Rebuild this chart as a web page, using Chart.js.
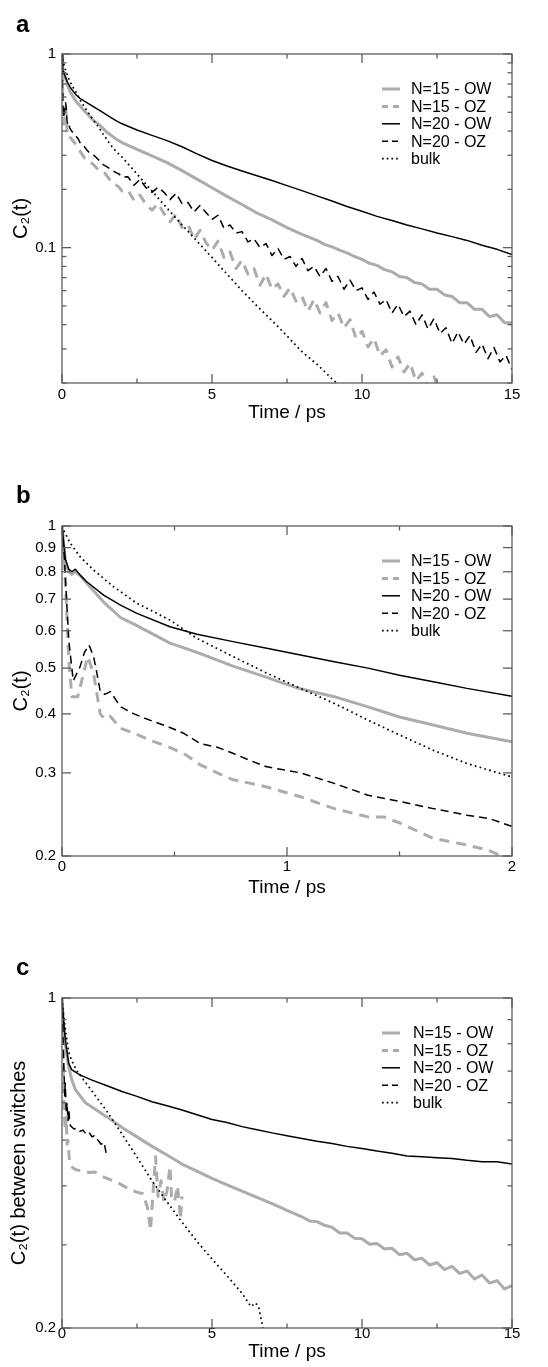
<!DOCTYPE html>
<html><head><meta charset="utf-8">
<script src="https://cdn.jsdelivr.net/npm/chart.js@4.4.1/dist/chart.umd.min.js"></script>
<style>
html,body{margin:0;padding:0;background:#fff;}
#wrap{position:relative;width:548px;height:1367px;overflow:hidden;background:#fff;}
canvas{position:absolute;left:0;}
.lbl{position:absolute;left:16px;font:bold 24px 'Liberation Sans',Arial,sans-serif;color:#000;line-height:1;}
</style></head><body>
<div id="wrap">
<canvas id="cA" width="548" height="440" style="top:0"></canvas>
<canvas id="cB" width="548" height="460" style="top:440px"></canvas>
<canvas id="cC" width="548" height="467" style="top:900px"></canvas>
<div class="lbl" style="top:12px">a</div>
<div class="lbl" style="top:483px">b</div>
<div class="lbl" style="top:955px">c</div>
</div>
<script>
// ---------- labels ----------
const seriesLabels = ['N=15 - OW', 'N=15 - OZ', 'N=20 - OW', 'N=20 - OZ', 'bulk'];

// ---------- panel b (t = 0..2 ps); also the early part of panel a ----------
const bTimeOW15 = [0,0.015,0.03,0.044,0.059,0.081,0.11,0.185,0.26,0.333,0.48,0.6,0.76,0.91,0.985,1.06,1.21,1.36,1.5,1.65,1.8,2.0];
const bOW15     = [1,0.84,0.80,0.79,0.80,0.785,0.756,0.69,0.64,0.615,0.565,0.54,0.505,0.478,0.464,0.452,0.435,0.414,0.394,0.379,0.364,0.349];
const bTimeOZ15 = [0,0.01,0.02,0.03,0.044,0.07,0.096,0.114,0.14,0.17,0.19,0.215,0.26,0.32,0.39,0.47,0.54,0.615,0.69,0.76,0.84,0.91,1.06,1.21,1.36,1.43,1.5,1.65,1.8,1.89,2.0];
const bOZ15     = [1,0.85,0.68,0.52,0.435,0.435,0.488,0.529,0.488,0.40,0.39,0.395,0.373,0.364,0.352,0.341,0.33,0.312,0.30,0.29,0.285,0.28,0.267,0.252,0.242,0.242,0.235,0.218,0.211,0.206,0.196];
const bTimeOW20 = [0,0.015,0.03,0.044,0.059,0.081,0.11,0.185,0.26,0.333,0.48,0.6,0.76,0.91,1.06,1.21,1.36,1.5,1.65,1.8,2.0];
const bOW20     = [1,0.85,0.81,0.80,0.81,0.787,0.762,0.714,0.68,0.653,0.612,0.59,0.569,0.551,0.533,0.516,0.5,0.483,0.468,0.453,0.436];
const bTimeOZ20 = [0,0.01,0.02,0.03,0.05,0.08,0.1,0.12,0.14,0.155,0.17,0.19,0.215,0.26,0.32,0.39,0.47,0.54,0.615,0.69,0.76,0.84,0.91,1.06,1.21,1.36,1.5,1.65,1.8,1.9,2.0];
const bOZ20     = [1,0.86,0.7,0.573,0.47,0.503,0.54,0.56,0.53,0.488,0.446,0.44,0.446,0.414,0.40,0.388,0.376,0.364,0.346,0.34,0.33,0.318,0.309,0.30,0.285,0.269,0.261,0.252,0.244,0.24,0.231];
const bTimeBulk = [0,0.007,0.037,0.081,0.14,0.23,0.333,0.48,0.6,0.76,0.91,1.06,1.21,1.36,1.5,1.65,1.8,2.0];
const bBulk     = [1,0.98,0.919,0.86,0.807,0.743,0.686,0.632,0.578,0.529,0.488,0.453,0.421,0.388,0.361,0.335,0.314,0.294];

// ---------- panel a, later part (t > 2 ps) ----------
const aLateOW20T = [2.5,3,3.5,4,4.5,5,5.5,6,6.5,7,7.5,8,8.5,9,9.5,10,10.5,11,11.5,12,12.5,13,13.5,14,14.5,15];
const aLateOW20  = [0.405,0.38,0.357,0.332,0.305,0.282,0.264,0.249,0.235,0.222,0.209,0.197,0.185,0.174,0.163,0.154,0.145,0.138,0.131,0.125,0.119,0.114,0.109,0.103,0.098,0.092];
const aLateOW15T = [2.5,3,3.5,4,4.5,5,5.5,6,6.5,7,7.5,8,8.5,8.75,9,9.25,9.5,9.75,10,10.25,10.5,10.75,11,11.25,11.5,11.75,12,12.25,12.5,12.75,13,13.25,13.5,13.75,14,14.25,14.5,14.75,15];
const aLateOW15  = [0.322,0.298,0.275,0.25,0.226,0.204,0.184,0.167,0.151,0.139,0.127,0.117,0.109,0.104,0.101,0.097,0.094,0.09,0.087,0.083,0.081,0.077,0.075,0.071,0.07,0.066,0.065,0.061,0.061,0.057,0.056,0.052,0.052,0.048,0.048,0.044,0.045,0.041,0.041];
const aLateBulkT = [2.5,3,3.5,4,4.5,5,5.5,6,6.5,7,7.5,8,8.5,9,9.5];
const aLateBulk  = [0.24,0.196,0.16,0.131,0.108,0.089,0.073,0.06,0.05,0.042,0.035,0.029,0.025,0.021,0.018];
const aLateOZ20T = [2.2,2.4,2.6,2.8,3,3.2,3.4,3.6,3.8,4,4.2,4.4,4.6,4.8,5,5.2,5.4,5.6,5.8,6,6.2,6.4,6.6,6.8,7,7.2,7.4,7.6,7.8,8,8.2,8.4,8.6,8.8,9,9.2,9.4,9.6,9.8,10,10.2,10.4,10.6,10.8,11,11.2,11.4,11.6,11.8,12,12.2,12.4,12.6,12.8,13,13.2,13.4,13.6,13.8,14,14.2,14.4,14.6,14.8,15];
const aLateOZ20  = [0.232,0.21,0.225,0.204,0.193,0.205,0.193,0.177,0.191,0.169,0.171,0.153,0.165,0.152,0.14,0.147,0.126,0.131,0.119,0.121,0.107,0.111,0.1,0.105,0.091,0.099,0.087,0.09,0.08,0.088,0.076,0.08,0.071,0.078,0.067,0.071,0.061,0.068,0.06,0.062,0.054,0.059,0.051,0.054,0.046,0.051,0.044,0.047,0.04,0.045,0.038,0.043,0.036,0.0386,0.032,0.0367,0.0317,0.0352,0.0288,0.0318,0.0267,0.0305,0.0257,0.0278,0.0235];
const aLateOZ15T = [2.2,2.4,2.6,2.8,3,3.2,3.4,3.6,3.8,4,4.2,4.4,4.6,4.8,5,5.2,5.4,5.6,5.8,6,6.2,6.4,6.6,6.8,7,7.2,7.4,7.6,7.8,8,8.2,8.4,8.6,8.8,9,9.2,9.4,9.6,9.8,10,10.2,10.4,10.6,10.8,11,11.2,11.4,11.6,11.8,12,12.2,12.4,12.6];
const aLateOZ15  = [0.198,0.175,0.187,0.167,0.156,0.169,0.15,0.136,0.149,0.127,0.132,0.11,0.123,0.106,0.097,0.108,0.089,0.095,0.078,0.086,0.073,0.078,0.064,0.073,0.061,0.065,0.056,0.062,0.053,0.056,0.047,0.054,0.046,0.052,0.042,0.046,0.0385,0.0425,0.034,0.037,0.0307,0.034,0.0276,0.0297,0.0242,0.0273,0.0228,0.0253,0.0205,0.0225,0.019,0.0215,0.0182];

// ---------- panel c (between switches) ----------
const cTimeOW15 = [0,0.05,0.11,0.22,0.33,0.45,0.78,1.22,1.5,2,2.5,3,3.5,4,4.5,5,5.5,6,6.5,7,7.5,8,8.25,8.5,8.75,9,9.25,9.5,9.75,10,10.25,10.5,10.75,11,11.25,11.5,11.75,12,12.25,12.5,12.75,13,13.25,13.5,13.75,14,14.25,14.5,14.75,15];
const cOW15     = [1,0.88,0.8,0.716,0.67,0.639,0.6,0.575,0.56,0.532,0.508,0.485,0.465,0.445,0.43,0.415,0.402,0.39,0.378,0.367,0.355,0.344,0.337,0.336,0.33,0.327,0.318,0.318,0.31,0.309,0.301,0.302,0.294,0.295,0.286,0.288,0.279,0.281,0.272,0.275,0.266,0.27,0.261,0.264,0.254,0.259,0.249,0.252,0.242,0.246];
const cTimeOZ15 = [0,0.03,0.06,0.09,0.11,0.14,0.17,0.2,0.25,0.3,0.4,0.5,0.7,0.9,1.1,1.3,1.5,1.7,1.9,2.1,2.3,2.5,2.7,2.85,2.95,3.05,3.12,3.2,3.3,3.4,3.5,3.6,3.65,3.75,3.85,3.95,4.0];
const cOZ15     = [1,0.8,0.6,0.55,0.525,0.56,0.49,0.5,0.45,0.44,0.435,0.432,0.43,0.427,0.428,0.42,0.415,0.41,0.405,0.398,0.392,0.388,0.385,0.36,0.322,0.4,0.461,0.38,0.41,0.37,0.39,0.44,0.38,0.37,0.40,0.34,0.38];
const cTimeOW20 = [0,0.05,0.11,0.22,0.33,0.5,0.67,1,1.5,2,2.5,3,3.5,4,4.5,5,5.5,6,6.5,7,7.5,8,8.5,9,9.5,10,10.5,11,11.5,12,12.5,13,13.5,14,14.5,15];
const cOW20     = [1,0.9,0.815,0.728,0.704,0.693,0.684,0.67,0.652,0.634,0.619,0.603,0.591,0.579,0.566,0.553,0.545,0.534,0.526,0.518,0.511,0.504,0.497,0.492,0.485,0.48,0.474,0.469,0.463,0.461,0.459,0.457,0.453,0.45,0.45,0.445];
const cTimeOZ20 = [0,0.03,0.06,0.09,0.11,0.14,0.17,0.2,0.23,0.26,0.3,0.4,0.5,0.6,0.7,0.8,0.9,1.0,1.1,1.2,1.3,1.4,1.47];
const cOZ20     = [1,0.85,0.72,0.62,0.66,0.57,0.6,0.55,0.58,0.54,0.535,0.528,0.53,0.522,0.525,0.515,0.52,0.508,0.512,0.5,0.49,0.495,0.47];
const cTimeBulk = [0,0.05,0.11,0.22,0.33,0.5,1,1.5,2,2.5,3,3.5,4,4.5,5,5.5,6,6.3,6.45,6.55,6.7];
const cBulk     = [1,0.92,0.86,0.77,0.735,0.70,0.635,0.575,0.515,0.46,0.41,0.37,0.335,0.305,0.28,0.258,0.237,0.222,0.226,0.222,0.2];

// ---------- axis ticks ----------
const xTicks15   = [0,2.5,5,7.5,10,12.5,15];
const xLabels15  = [0,5,10,15];
const xTicks2    = [0,0.5,1,1.5,2];
const xLabels2   = [0,1,2];
const yTicksA    = [0.02,0.03,0.04,0.05,0.06,0.07,0.08,0.09,0.1,0.2,0.3,0.4,0.5,0.6,0.7,0.8,0.9,1];
const yLabelsA   = [0.1,1];
const yTicksB    = [0.2,0.3,0.4,0.5,0.6,0.7,0.8,0.9,1];
const yLabelsB   = [0.2,0.3,0.4,0.5,0.6,0.7,0.8,0.9,1];
const yTicksC    = [0.2,0.3,0.4,0.5,0.6,0.7,0.8,0.9,1];
const yLabelsC   = [0.2,1];

// ---------- helpers ----------
const FONT = "'Liberation Sans', Arial, Helvetica, sans-serif";
const GRAY = '#acacac';
const pts = (ts, vs) => ts.map((t, i) => ({x: t, y: vs[i]}));
const styles = [
  {borderColor: GRAY, borderWidth: 3, borderDash: [], legendDash: [], order: 2},
  {borderColor: GRAY, borderWidth: 3, borderDash: [10, 7], legendDash: [6, 5], order: 2},
  {borderColor: '#000', borderWidth: 1.5, borderDash: [], legendDash: [], order: 1},
  {borderColor: '#000', borderWidth: 1.5, borderDash: [8, 5], legendDash: [6, 4], order: 1},
  {borderColor: '#000', borderWidth: 1.7, borderDash: [1.7, 3.3], legendDash: [1.7, 3], order: 1}
];
function mkDatasets(list) {
  return list.map((data, i) => Object.assign({
    label: seriesLabels[i], data, pointRadius: 0, tension: 0, fill: false, clip: 0,
    borderCapStyle: 'butt', borderJoinStyle: 'round'
  }, styles[i]));
}

const framePlugin = {
  id: 'frame',
  afterDatasetsDraw(chart, args, o) {
    const {ctx, chartArea: a} = chart;
    const xs = chart.scales.x, ys = chart.scales.y;
    ctx.save();
    ctx.strokeStyle = '#5e5e5e';
    ctx.lineWidth = 1.3;
    ctx.setLineDash([]);
    const seg = (x1, y1, x2, y2) => { ctx.beginPath(); ctx.moveTo(x1, y1); ctx.lineTo(x2, y2); ctx.stroke(); };
    xs.ticks.forEach(t => {
      const px = xs.getPixelForValue(t.value);
      const len = o.xMajor.includes(t.value) ? 9 : 4.5;
      seg(px, a.bottom, px, a.bottom - len);
      seg(px, a.top, px, a.top + len);
    });
    ys.ticks.forEach(t => {
      const py = ys.getPixelForValue(t.value);
      const len = o.yMajor.includes(t.value) ? 9 : 4.5;
      seg(a.left, py, a.left + len, py);
      seg(a.right, py, a.right - len, py);
    });
    ctx.strokeRect(a.left, a.top, a.right - a.left, a.bottom - a.top);
    // legend inside the plot area
    chart.data.datasets.forEach((ds, i) => {
      const y = a.top + 35 + i * 17.4;
      ctx.save();
      ctx.strokeStyle = ds.borderColor;
      ctx.lineWidth = ds.borderWidth;
      ctx.setLineDash(ds.legendDash || []);
      ctx.beginPath(); ctx.moveTo(a.right - 130, y); ctx.lineTo(a.right - 112, y); ctx.stroke();
      ctx.restore();
      ctx.fillStyle = '#000';
      ctx.font = '16px ' + FONT;
      ctx.textBaseline = 'middle';
      ctx.textAlign = 'left';
      ctx.fillText(ds.label, a.right - 101 + (o.legendShift || 0), y + 1);
    });
    ctx.restore();
  }
};

function makeChart(id, cfg) {
  return new Chart(document.getElementById(id), {
    type: 'line',
    data: {datasets: mkDatasets(cfg.series)},
    options: {
      responsive: false, animation: false, devicePixelRatio: 1,
      layout: {padding: {top: cfg.padTop, right: 36, left: 0, bottom: 0}},
      plugins: {legend: {display: false}, tooltip: {enabled: false},
        frame: {xMajor: cfg.xLabels, yMajor: cfg.yMajor, legendShift: cfg.legendShift || 0}},
      scales: {
        x: {
          type: 'linear', min: cfg.xMin, max: cfg.xMax,
          grid: {display: false, drawTicks: false}, border: {display: false},
          afterBuildTicks: s => { s.ticks = cfg.xTicks.map(v => ({value: v})); },
          afterFit: s => { s.height = cfg.xHeight; },
          ticks: {autoSkip: false, maxRotation: 0, padding: cfg.xTickPad, color: '#000',
            font: {family: FONT, size: 15},
            callback: v => cfg.xLabels.includes(v) ? String(v) : ''},
          title: {display: true, text: 'Time / ps', color: '#000',
            font: {family: FONT, size: 19}, padding: {top: 0, bottom: cfg.xTitlePad}}
        },
        y: {
          type: 'logarithmic', min: cfg.yMin, max: 1,
          grid: {display: false, drawTicks: false}, border: {display: false},
          afterBuildTicks: s => { s.ticks = cfg.yTicks.map(v => ({value: v})); },
          afterFit: s => { s.width = 62; },
          ticks: {autoSkip: false, padding: 6, color: '#000',
            font: {family: FONT, size: 15},
            callback: v => cfg.yLabels.includes(v) ? String(v) : ''},
          title: {display: true, text: cfg.yTitle, color: '#000',
            font: {family: FONT, size: 20}, padding: {top: cfg.yTitlePad, bottom: 0}}
        }
      }
    },
    plugins: [framePlugin]
  });
}

makeChart('cA', {
  series: [
    pts(bTimeOW15.concat(aLateOW15T), bOW15.concat(aLateOW15)),
    pts(bTimeOZ15.concat(aLateOZ15T), bOZ15.concat(aLateOZ15)),
    pts(bTimeOW20.concat(aLateOW20T), bOW20.concat(aLateOW20)),
    pts(bTimeOZ20.concat(aLateOZ20T), bOZ20.concat(aLateOZ20)),
    pts(bTimeBulk.concat(aLateBulkT), bBulk.concat(aLateBulk))
  ],
  padTop: 54, xHeight: 57, xMin: 0, xMax: 15, xTicks: xTicks15, xLabels: xLabels15, xTickPad: 3, xTitlePad: 15.6,
  yMin: 0.02, yTicks: yTicksA, yLabels: yLabelsA, yMajor: yLabelsA, yTitle: 'C₂(t)', yTitlePad: 9
});

makeChart('cB', {
  series: [
    pts(bTimeOW15, bOW15), pts(bTimeOZ15, bOZ15), pts(bTimeOW20, bOW20),
    pts(bTimeOZ20, bOZ20), pts(bTimeBulk, bBulk)
  ],
  padTop: 86, xHeight: 44, xMin: 0, xMax: 2, xTicks: xTicks2, xLabels: xLabels2, xTickPad: 2, xTitlePad: 0.6,
  yMin: 0.2, yTicks: yTicksB, yLabels: yLabelsB, yMajor: yLabelsB, yTitle: 'C₂(t)', yTitlePad: 9
});

makeChart('cC', {
  series: [
    pts(cTimeOW15, cOW15), pts(cTimeOZ15, cOZ15), pts(cTimeOW20, cOW20),
    pts(cTimeOZ20, cOZ20), pts(cTimeBulk, cBulk)
  ],
  padTop: 98, xHeight: 39, xMin: 0, xMax: 15, xTicks: xTicks15, xLabels: xLabels15, xTickPad: -3, xTitlePad: 4,
  yMin: 0.2, yTicks: yTicksC, yLabels: yLabelsC, yMajor: yLabelsC, yTitle: 'C₂(t) between switches', yTitlePad: 7,
  legendShift: 2
});
</script>
</body></html>
